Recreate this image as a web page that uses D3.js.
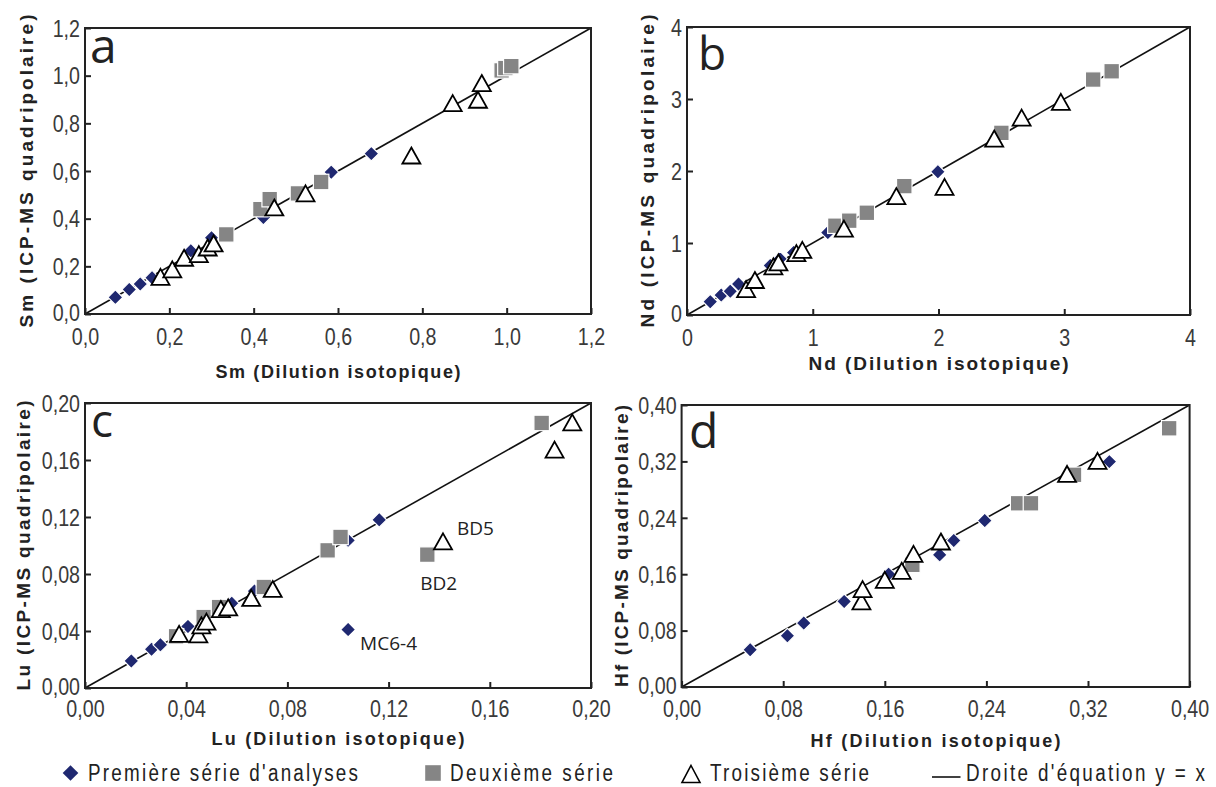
<!DOCTYPE html>
<html><head><meta charset="utf-8">
<script src="https://cdn.jsdelivr.net/npm/d3@7"></script>
<style>
html,body{margin:0;padding:0;background:#fff;}
svg{display:block;}
.tick-label{font-family:"Liberation Sans","Arial",sans-serif;fill:#3a3a3a;}
.title{font-family:"Liberation Sans","Arial",sans-serif;font-weight:bold;fill:#222;}
.legend{font-family:"Liberation Sans","Arial",sans-serif;fill:#222;}
.letter{font-family:"Open Sans",sans-serif;fill:#222;}
.annot{font-family:"Open Sans",sans-serif;fill:#222;}
</style>
</head><body>
<svg id="chart" width="1216" height="787"></svg>
<script>
// ---------- DATA ----------
// Panel a : Sm
const smTicks = [0, 0.2, 0.4, 0.6, 0.8, 1.0, 1.2];
const smPremiere = [[0.072,0.070],[0.105,0.103],[0.131,0.126],[0.159,0.152],[0.251,0.265],[0.300,0.320],[0.423,0.405],[0.584,0.595],[0.679,0.673]];
const smDeuxieme = [[0.335,0.334],[0.416,0.440],[0.438,0.482],[0.505,0.506],[0.560,0.554],[0.988,1.022],[0.997,1.032],[1.011,1.040]];
const smTroisieme = [[0.179,0.156],[0.207,0.187],[0.235,0.236],[0.270,0.251],[0.291,0.279],[0.305,0.296],[0.449,0.447],[0.523,0.506],[0.774,0.665],[0.872,0.885],[0.932,0.899],[0.941,0.969]];
// Panel b : Nd
const ndTicks = [0, 1, 2, 3, 4];
const ndPremiere = [[0.185,0.185],[0.272,0.277],[0.344,0.330],[0.410,0.430],[0.662,0.687],[0.740,0.780],[0.848,0.867],[1.120,1.145],[1.995,1.990]];
const ndDeuxieme = [[1.180,1.240],[1.290,1.310],[1.430,1.420],[1.728,1.790],[2.500,2.530],[3.230,3.270],[3.377,3.385]];
const ndTroisieme = [[0.470,0.360],[0.540,0.486],[0.687,0.675],[0.727,0.730],[0.870,0.860],[0.917,0.905],[1.248,1.200],[1.665,1.651],[2.048,1.780],[2.443,2.451],[2.661,2.742],[2.973,2.960]];
// Panel c : Lu
const luTicks = [0, 0.04, 0.08, 0.12, 0.16, 0.20];
const luPremiere = [[0.0183,0.0190],[0.0263,0.0272],[0.0298,0.0303],[0.0407,0.0432],[0.0580,0.0595],[0.0670,0.0680],[0.1040,0.1036],[0.1163,0.1180],[0.1040,0.0410]];
const luDeuxieme = [[0.0360,0.0363],[0.0469,0.0498],[0.0530,0.0568],[0.0707,0.0709],[0.0959,0.0966],[0.1010,0.1060],[0.1353,0.0936],[0.1805,0.1860]];
const luTroisieme = [[0.0372,0.0380],[0.0448,0.0376],[0.0460,0.0440],[0.0480,0.0466],[0.0537,0.0554],[0.0566,0.0566],[0.0657,0.0632],[0.0742,0.0695],[0.1415,0.1029],[0.1856,0.1673],[0.1926,0.1864]];
const luLabels = [["MC6-4", 0.1040, 0.0410], ["BD2", 0.1353, 0.0936], ["BD5", 0.1415, 0.1029]];
// Panel d : Hf
const hfTicks = [0, 0.08, 0.16, 0.24, 0.32, 0.40];
const hfPremiere = [[0.054,0.0529],[0.0833,0.0727],[0.0962,0.0907],[0.128,0.1214],[0.163,0.160],[0.2032,0.1875],[0.2143,0.2078],[0.2387,0.2361],[0.3368,0.3197]];
const hfDeuxieme = [[0.1817,0.1733],[0.265,0.2606],[0.2751,0.2606],[0.309,0.301],[0.3839,0.367]];
const hfTroisieme = [[0.1416,0.1214],[0.1425,0.1388],[0.160,0.152],[0.1733,0.1648],[0.1826,0.1889],[0.2042,0.2064],[0.3035,0.3022],[0.3275,0.3207]];

const legendLabels = ["Première série d'analyses", "Deuxième série", "Troisième série", "Droite d'équation y = x"];

// ---------- STYLE ----------
const colPremiere = "#1f2870";
const colDeuxieme = "#858585";
const NARROW = 0.82; // condensed glyph ratio

const svg = d3.select("#chart");
const fmt = (dec) => (v => v.toFixed(dec).replace(".", ","));

const panels = [
  {letter:"a", letterX:90, letterY:63, letterSize:48, el:"Sm", ticks:smTicks, dec:1,
   xr:[85,591], yr:[314,28], p:smPremiere, d:smDeuxieme, t:smTroisieme,
   ytX:26, ytLen:313, xtY:378, xtLen:245, xtSize:18, xlabOff:23},
  {letter:"b", letterX:698, letterY:70, letterSize:46, el:"Nd", ticks:ndTicks, dec:0,
   xr:[687,1190], yr:[315,27], p:ndPremiere, d:ndDeuxieme, t:ndTroisieme,
   ytX:647, ytLen:313, xtY:370, xtLen:260, xtSize:19, xlabOff:23},
  {letter:"c", letterX:91, letterY:437, letterSize:46, el:"Lu", ticks:luTicks, dec:2,
   xr:[85,591], yr:[688,403], p:luPremiere, d:luDeuxieme, t:luTroisieme,
   ytX:23, ytLen:290, xtY:745, xtLen:253, xtSize:18, xlabOff:21, labels:luLabels},
  {letter:"d", letterX:689, letterY:448, letterSize:48, el:"Hf", ticks:hfTicks, dec:2,
   xr:[681.6,1189.6], yr:[687,405], p:hfPremiere, d:hfDeuxieme, t:hfTroisieme,
   ytX:621, ytLen:282, xtY:747, xtLen:250, xtSize:18, xlabOff:22}
];

const diamondR = 7.4, squareS = 15.5, triW = 18, triH = 16;
function triPath(w,h){ return `M0,${-h/2}L${w/2},${h/2}L${-w/2},${h/2}Z`; }
function diaPath(r){ return `M0,${-r}L${r},0L0,${r}L${-r},0Z`; }

panels.forEach(P => {
  const dom = [P.ticks[0], P.ticks[P.ticks.length-1]];
  const x = d3.scaleLinear().domain(dom).range(P.xr);
  const y = d3.scaleLinear().domain(dom).range(P.yr);
  const g = svg.append("g");

  // identity line y = x
  g.append("line").attr("x1", x(dom[0])).attr("y1", y(dom[0])).attr("x2", x(dom[1])).attr("y2", y(dom[1]))
    .attr("stroke", "#111").attr("stroke-width", 1.6);

  // axes with inward ticks
  const xAxis = d3.axisBottom(x).tickValues(P.ticks).tickFormat(fmt(P.dec)).tickSizeInner(-6).tickSizeOuter(0);
  const gx = g.append("g").attr("transform", `translate(0,${P.yr[0]})`).call(xAxis);
  const yAxis = d3.axisLeft(y).tickValues(P.ticks).tickFormat(fmt(P.dec)).tickSizeInner(-6).tickSizeOuter(0);
  const gy = g.append("g").attr("transform", `translate(${P.xr[0]},0)`).call(yAxis);
  [gx, gy].forEach(a => {
    a.select(".domain").remove();
    a.selectAll(".tick line").attr("stroke", "#222").attr("stroke-width", 2);
    a.selectAll(".tick text").attr("class", "tick-label").attr("font-size", 24).attr("fill", "#3a3a3a")
      .attr("font-family", null);
  });
  gx.selectAll(".tick text").attr("dy", null).attr("x", 0).attr("y", P.xlabOff)
    .attr("dominant-baseline", "central").attr("transform", `scale(${NARROW},1)`);
  gy.selectAll(".tick text").attr("dy", null).attr("dominant-baseline", "central")
    .attr("x", -5 / NARROW).attr("y", (d,i) => i === 0 ? -2 : 0)
    .attr("transform", `scale(${NARROW},1)`);

  // frame
  g.append("rect").attr("x", P.xr[0]).attr("y", P.yr[1]).attr("width", P.xr[1]-P.xr[0]).attr("height", P.yr[0]-P.yr[1])
    .attr("fill", "none").attr("stroke", "#222").attr("stroke-width", 2);

  // markers
  g.selectAll(".pre").data(P.p).join("path").attr("class","pre")
    .attr("d", diaPath(diamondR)).attr("transform", d => `translate(${x(d[0])},${y(d[1])})`)
    .attr("fill", colPremiere).attr("stroke", "#fff").attr("stroke-width", 1.2);
  g.selectAll(".deu").data(P.d).join("rect").attr("class","deu")
    .attr("x", d => x(d[0]) - squareS/2).attr("y", d => y(d[1]) - squareS/2)
    .attr("width", squareS).attr("height", squareS)
    .attr("fill", colDeuxieme).attr("stroke", "#fff").attr("stroke-width", 1.2);
  g.selectAll(".tro").data(P.t).join("path").attr("class","tro")
    .attr("d", triPath(triW, triH)).attr("transform", d => `translate(${x(d[0])},${y(d[1])})`)
    .attr("fill", "#fff").attr("stroke", "#000").attr("stroke-width", 1.8);

  // point annotations
  if (P.labels) {
    const offs = {"MC6-4":[12,20], "BD2":[-7,35], "BD5":[14,-6]};
    g.selectAll(".annot").data(P.labels).join("text").attr("class","annot")
      .attr("x", d => x(d[1]) + offs[d[0]][0]).attr("y", d => y(d[2]) + offs[d[0]][1])
      .attr("font-size", 19).text(d => d[0]);
  }

  // panel letter
  g.append("text").attr("class","letter").attr("x", P.letterX).attr("y", P.letterY)
    .attr("font-size", P.letterSize).text(P.letter);

  // axis titles
  g.append("text").attr("class","title").attr("text-anchor","middle")
    .attr("x", (P.xr[0]+P.xr[1])/2).attr("y", P.xtY).attr("font-size", P.xtSize)
    .attr("textLength", P.xtLen).attr("lengthAdjust","spacing")
    .text(`${P.el} (Dilution isotopique)`);
  const cy = (P.yr[0]+P.yr[1])/2;
  g.append("text").attr("class","title").attr("text-anchor","middle")
    .attr("transform", `translate(${P.ytX + 7},${cy}) rotate(-90)`).attr("font-size", 19)
    .attr("textLength", P.ytLen).attr("lengthAdjust","spacing")
    .text(`${P.el} (ICP-MS quadripolaire)`);
});

// ---------- LEGEND ----------
const lg = svg.append("g");
const ly = 773;
lg.append("path").attr("d", diaPath(7.8)).attr("transform", `translate(70.5,${ly})`).attr("fill", colPremiere);
lg.append("rect").attr("x", 433-7.8).attr("y", ly-7.8).attr("width", 15.6).attr("height", 15.6).attr("fill", colDeuxieme);
lg.append("path").attr("d", triPath(18,17)).attr("transform", `translate(691,${ly+1})`).attr("fill","#fff").attr("stroke","#000").attr("stroke-width",1.6);
lg.append("line").attr("x1", 932).attr("x2", 960.5).attr("y1", ly+4).attr("y2", ly+4).attr("stroke","#111").attr("stroke-width",1.6);
const legendPos = [[88,270],[450,163],[710,159],[966,239]];
lg.selectAll(".legend").data(legendLabels).join("text").attr("class","legend")
  .attr("transform", `scale(${NARROW},1)`)
  .attr("x", (d,i) => legendPos[i][0] / NARROW).attr("y", 781).attr("font-size", 23)
  .attr("textLength", (d,i) => legendPos[i][1] / NARROW).attr("lengthAdjust","spacing")
  .text(d => d);
</script>
</body></html>
